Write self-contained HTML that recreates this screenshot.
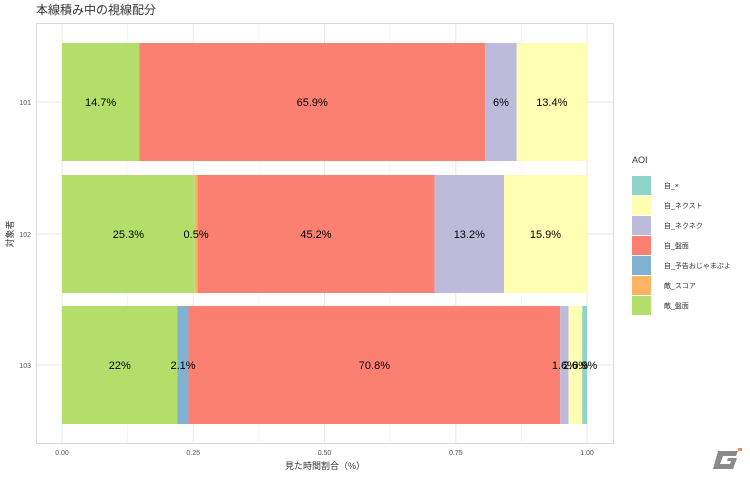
<!DOCTYPE html>
<html><head><meta charset="utf-8"><style>
body{margin:0;background:#fff}
svg text{font-family:"Liberation Sans","Noto Sans CJK JP",sans-serif}
</style></head><body>
<svg width="750" height="476" xmlns="http://www.w3.org/2000/svg">
<rect width="750" height="476" fill="#fff"/>
<text x="36" y="14" font-size="12" fill="#333">本線積み中の視線配分</text>
<rect x="36.5" y="23.5" width="577" height="420" fill="#fff" stroke="#d9d9d9"/>
<g stroke="#f0f0f0" stroke-width="0.6">
<line x1="127.6" y1="24" x2="127.6" y2="443"/><line x1="258.9" y1="24" x2="258.9" y2="443"/><line x1="390.1" y1="24" x2="390.1" y2="443"/><line x1="521.4" y1="24" x2="521.4" y2="443"/>
</g>
<g stroke="#e8e8e8" stroke-width="1">
<line x1="62" y1="24" x2="62" y2="443"/><line x1="193.2" y1="24" x2="193.2" y2="443"/><line x1="324.5" y1="24" x2="324.5" y2="443"/><line x1="455.8" y1="24" x2="455.8" y2="443"/><line x1="587" y1="24" x2="587" y2="443"/>
<line x1="37" y1="102" x2="613" y2="102"/><line x1="37" y1="234" x2="613" y2="234"/><line x1="37" y1="365" x2="613" y2="365"/>
</g>
<!-- 101 -->
<rect x="62" y="43" width="77.2" height="118" fill="#B3DE69"/>
<rect x="139.2" y="43" width="346" height="118" fill="#FB8072"/>
<rect x="485.2" y="43" width="31.5" height="118" fill="#BEBADA"/>
<rect x="516.7" y="43" width="70.3" height="118" fill="#FFFFB3"/>
<!-- 102 -->
<rect x="62" y="175" width="132.8" height="118" fill="#B3DE69"/>
<rect x="194.8" y="175" width="2.6" height="118" fill="#FDB462"/>
<rect x="197.4" y="175" width="237.3" height="118" fill="#FB8072"/>
<rect x="434.7" y="175" width="69.3" height="118" fill="#BEBADA"/>
<rect x="504" y="175" width="83" height="118" fill="#FFFFB3"/>
<!-- 103 -->
<rect x="62" y="306" width="115.5" height="118" fill="#B3DE69"/>
<rect x="177.5" y="306" width="11" height="118" fill="#80B1D3"/>
<rect x="188.5" y="306" width="371.7" height="118" fill="#FB8072"/>
<rect x="560.2" y="306" width="8.4" height="118" fill="#BEBADA"/>
<rect x="568.6" y="306" width="13.7" height="118" fill="#FFFFB3"/>
<rect x="582.3" y="306" width="4.7" height="118" fill="#8DD3C7"/>
<g font-size="11" fill="#000" text-anchor="middle">
<text x="100.6" y="106">14.7%</text><text x="312.2" y="106">65.9%</text><text x="501" y="106">6%</text><text x="551.8" y="106">13.4%</text>
<text x="128.4" y="238">25.3%</text><text x="196.1" y="238">0.5%</text><text x="316" y="238">45.2%</text><text x="469.3" y="238">13.2%</text><text x="545.5" y="238">15.9%</text>
<text x="119.8" y="369">22%</text><text x="183" y="369">2.1%</text><text x="374.4" y="369">70.8%</text><text x="564.4" y="369">1.6%</text><text x="575.5" y="369">2.6%</text><text x="584.7" y="369">0.9%</text>
</g>
<g font-size="7" fill="#555" text-anchor="end">
<text x="31" y="105">101</text><text x="31" y="237">102</text><text x="31" y="368">103</text>
</g>
<g font-size="7" fill="#555" text-anchor="middle">
<text x="62" y="455">0.00</text><text x="193.2" y="455">0.25</text><text x="324.5" y="455">0.50</text><text x="455.8" y="455">0.75</text><text x="587" y="455">1.00</text>
</g>
<text x="325" y="469" font-size="9" fill="#333" text-anchor="middle">見た時間割合（%）</text>
<text transform="translate(13,234) rotate(-90)" font-size="9" fill="#333" text-anchor="middle">対象者</text>
<text x="632" y="163" font-size="9" fill="#333">AOI</text>
<g>
<rect x="632" y="176" width="19" height="19" fill="#8DD3C7"/>
<rect x="632" y="196" width="19" height="19" fill="#FFFFB3"/>
<rect x="632" y="216" width="19" height="19" fill="#BEBADA"/>
<rect x="632" y="236" width="19" height="19" fill="#FB8072"/>
<rect x="632" y="256" width="19" height="19" fill="#80B1D3"/>
<rect x="632" y="276" width="19" height="19" fill="#FDB462"/>
<rect x="632" y="296" width="19" height="19" fill="#B3DE69"/>
</g>
<g font-size="7" fill="#333">
<text x="664" y="188">自_×</text><text x="664" y="208">自_ネクスト</text><text x="664" y="228">自_ネクネク</text><text x="664" y="248">自_盤面</text><text x="664" y="268">自_予告おじゃまぷよ</text><text x="664" y="288">敵_スコア</text><text x="664" y="308">敵_盤面</text>
</g>
<path d="M718 451 L738 451 L736 456 L723 456 L720 464 L730 464 L731 461 L727 461 L728 458 L737 458 L733 469 L713 469 Z" fill="#8a8a8a"/>
<rect x="738" y="448" width="4" height="3" fill="#f08a50"/>
</svg>
</body></html>
